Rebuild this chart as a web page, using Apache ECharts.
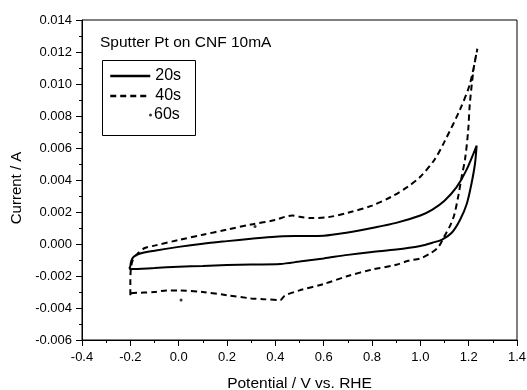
<!DOCTYPE html>
<html>
<head>
<meta charset="utf-8">
<script src="https://cdn.jsdelivr.net/npm/echarts@6/dist/echarts.min.js"></script>
<style>html,body{margin:0;padding:0;background:#fff}#c{width:527px;height:390px}</style>
</head>
<body>
<div id="c"></div>
<script>
// 20s (solid) cyclic voltammogram: anodic branch then return branch
const s20X = [-0.200,-0.196,-0.186,-0.165,-0.10,0.0,0.1,0.2,0.3,0.4,0.5,0.6,0.7,0.8,0.9,1.0,1.05,1.1,1.15,1.19,1.233,
              1.226,1.212,1.192,1.164,1.13,1.09,1.05,1.0,0.9,0.8,0.7,0.6,0.5,0.42,0.3,0.2,0.1,0.0,-0.1,-0.2,-0.203,-0.200];
const s20Y = [-0.00140,-0.00105,-0.00080,-0.00062,-0.00042,-0.00018,0.00002,0.00018,0.00033,0.00046,0.00050,0.00052,0.00072,0.00100,0.00132,0.00178,0.00215,0.00270,0.00355,0.00460,0.00615,
              0.00500,0.00380,0.00250,0.00150,0.00070,0.00028,0.00008,-0.00012,-0.00035,-0.00050,-0.00068,-0.00090,-0.00110,-0.00125,-0.00128,-0.00132,-0.00137,-0.00142,-0.00150,-0.00157,-0.00150,-0.00140];
// 40s (dashed)
const s40X = [-0.200,-0.200,-0.198,-0.190,-0.170,-0.140,-0.10,0.0,0.1,0.2,0.3,0.4,0.44,0.47,0.50,0.55,0.62,0.7,0.8,0.88,0.95,1.0,1.06,1.1,1.164,1.205,1.236,
              1.222,1.205,1.198,1.185,1.171,1.157,1.14,1.122,1.1,1.074,1.04,1.0,0.95,0.9,0.8,0.7,0.6,0.5,0.44,0.42,0.35,0.3,0.2,0.1,0.0,-0.05,-0.1,-0.2,-0.2];
const s40Y = [-0.00320,-0.00240,-0.00160,-0.00100,-0.00060,-0.00025,-0.00010,0.00025,0.00058,0.00090,0.00122,0.00150,0.00170,0.00178,0.00170,0.00162,0.00168,0.00195,0.00240,0.00295,0.00360,0.00420,0.00530,0.00640,0.00840,0.01000,0.01220,
              0.01110,0.00880,0.00710,0.00530,0.00420,0.00300,0.00180,0.00110,0.00050,-0.00020,-0.00060,-0.00090,-0.00105,-0.00130,-0.00160,-0.00200,-0.00250,-0.00290,-0.00322,-0.00350,-0.00345,-0.00340,-0.00320,-0.00300,-0.00290,-0.00290,-0.00300,-0.00310,-0.00320];
// 60s (only a few dots visible)
const s60X = [0.01, 0.316];
const s60Y = [-0.0035, 0.0011];
const seriesNames = ['20s','40s','60s'];
const annotation = 'Sputter Pt on CNF 10mA';
const xTitle = 'Potential / V vs. RHE';
const yTitle = 'Current / A';

const zip = (xs, ys) => xs.map((x, i) => [x, ys[i]]);
const FONT = 'Liberation Sans, Arial, sans-serif';
const chart = echarts.init(document.getElementById('c'), null, {renderer: 'canvas'});
chart.setOption({
  animation: false,
  backgroundColor: '#fff',
  title: {text: annotation, left: 100, top: 35, padding: 0,
    textStyle: {fontFamily: FONT, fontSize: 15.5, fontWeight: 'normal', color: '#000'}},
  legend: [
    {data: [seriesNames[0], seriesNames[1]], orient: 'vertical', left: 109, top: 68, padding: 0,
     itemWidth: 40, itemHeight: 10, itemGap: 4,
     itemStyle: {opacity: 0},
     lineStyle: {width: 2.5},
     textStyle: {fontFamily: FONT, fontSize: 16, color: '#000', lineHeight: 16}},
    {data: [{name: seriesNames[2], icon: 'circle'}], orient: 'vertical', left: 149, top: 107, padding: 0,
     itemWidth: 3, itemHeight: 3, itemGap: 4,
     textStyle: {fontFamily: FONT, fontSize: 16, color: '#000', lineHeight: 16, padding: [0,0,0,-3]}}
  ],
  graphic: [{type: 'rect', left: 100, top: 58, shape: {width: 93, height: 75},
    style: {fill: 'none', stroke: '#000', lineWidth: 1}, z: 100}],
  grid: {left: 82, right: 10, top: 20, bottom: 50, show: true, borderColor: '#000', borderWidth: 1,
    backgroundColor: 'transparent', containLabel: false, outerBoundsMode: 'none'},
  xAxis: {type: 'value', min: -0.4, max: 1.4, interval: 0.2,
    name: xTitle, nameLocation: 'middle', nameGap: 36,
    nameTextStyle: {fontFamily: FONT, fontSize: 15.5, color: '#000'},
    axisLine: {onZero: false, lineStyle: {color: '#000', width: 1}},
    axisTick: {show: true, inside: false, length: 6, lineStyle: {color: '#000'}},
    minorTick: {show: true, splitNumber: 2, length: 3, lineStyle: {color: '#000'}},
    splitLine: {show: false},
    axisLabel: {fontFamily: FONT, fontSize: 13, color: '#000', margin: 11,
      formatter: v => v.toFixed(1)}},
  yAxis: {type: 'value', min: -0.006, max: 0.014, interval: 0.002,
    name: yTitle, nameLocation: 'middle', nameGap: 52,
    nameTextStyle: {fontFamily: FONT, fontSize: 15, color: '#000', padding: [0, 16, 0, 0]},
    axisLine: {show: true, onZero: false, lineStyle: {color: '#000', width: 1}},
    axisTick: {show: true, inside: false, length: 6, lineStyle: {color: '#000'}},
    minorTick: {show: true, splitNumber: 2, length: 3, lineStyle: {color: '#000'}},
    splitLine: {show: false},
    axisLabel: {fontFamily: FONT, fontSize: 13, color: '#000', margin: 10,
      formatter: v => v.toFixed(3)}},
  series: [
    {name: seriesNames[0], type: 'line', data: zip(s20X, s20Y), showSymbol: false, symbol: 'none', smooth: 0.3,
     lineStyle: {color: '#000', width: 2}, itemStyle: {color: '#000'}},
    {name: seriesNames[1], type: 'line', data: zip(s40X, s40Y), showSymbol: false, symbol: 'none', smooth: 0.3,
     lineStyle: {color: '#000', width: 2, type: [6, 4]}, itemStyle: {color: '#000'}},
    {name: seriesNames[2], type: 'scatter', data: zip(s60X, s60Y), symbol: 'circle', symbolSize: 3,
     itemStyle: {color: '#000'}}
  ]
});
</script>
</body>
</html>
